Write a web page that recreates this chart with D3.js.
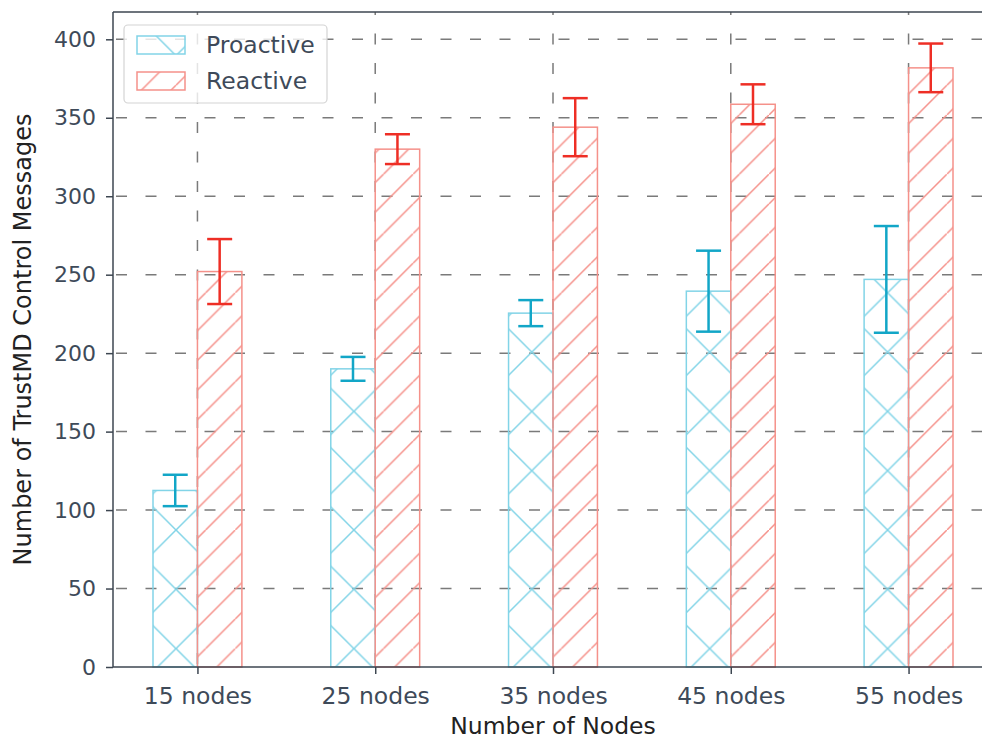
<!DOCTYPE html>
<html>
<head>
<meta charset="utf-8">
<script src="https://cdn.jsdelivr.net/npm/d3@7"></script>
<style>
  body { margin: 0; background: #fff; }
  text { font-family: "DejaVu Sans", sans-serif; }
</style>
</head>
<body>
<div id="chart"></div>
<script>
// chart data
var categories = ["15 nodes", "25 nodes", "35 nodes", "45 nodes", "55 nodes"];
var proactive = [112.5, 190, 225.5, 239.5, 247];
var proactiveErr = [10, 7.6, 8.3, 25.8, 34];
var reactive = [252, 330, 344, 358.6, 381.8];
var reactiveErr = [20.7, 9.5, 18.5, 12.7, 15.5];
var yTicks = [0, 50, 100, 150, 200, 250, 300, 350, 400];

var width = 982, height = 740;
var margin = {top: 12, left: 113, bottom: 667, right: 993};

var svg = d3.select("#chart").append("svg")
    .attr("width", width)
    .attr("height", height);

// x: bar positions as in matplotlib, i - 0.125 / i + 0.125, width 0.25
var x = d3.scaleLinear().domain([-0.475, 4.475]).range([margin.left, margin.right]);
var y = d3.scaleLinear().domain([0, 417.4]).range([margin.bottom, margin.top]);
var barW = x(0.25) - x(0);

var cyanEdge = "#82d4e7", cyanErr = "#12a6c7";
var redEdge = "#f5918a", redErr = "#ee2e25";

// hatch patterns, screen-space lattice
var T = 59.3;
var defs = svg.append("defs");
var px = defs.append("pattern").attr("id", "hatchX")
    .attr("patternUnits", "userSpaceOnUse")
    .attr("x", 176).attr("y", 530).attr("width", T).attr("height", T);
px.append("path")
    .attr("d", "M0,0L" + T + "," + T + "M0," + T + "L" + T + ",0")
    .attr("stroke", cyanEdge).attr("stroke-width", 1.5).attr("fill", "none");

var pr = defs.append("pattern").attr("id", "hatchR")
    .attr("patternUnits", "userSpaceOnUse")
    .attr("x", 176).attr("y", 530).attr("width", T).attr("height", T);
pr.append("path")
    .attr("d", "M0," + T / 2 + "L" + T / 2 + ",0M0," + T + "L" + T + ",0M" + T / 2 + "," + T + "L" + T + "," + T / 2)
    .attr("stroke", redEdge).attr("stroke-width", 1.5).attr("fill", "none");

var clip = defs.append("clipPath").attr("id", "plotclip");
clip.append("rect").attr("x", margin.left).attr("y", margin.top)
    .attr("width", margin.right - margin.left).attr("height", margin.bottom - margin.top);

// grid
var grid = svg.append("g").attr("clip-path", "url(#plotclip)");
grid.selectAll("line.hg").data(yTicks.slice(1)).enter().append("line")
    .attr("class", "hg")
    .attr("x1", margin.left).attr("x2", margin.right)
    .attr("y1", function(d) { return y(d); }).attr("y2", function(d) { return y(d); })
    .attr("stroke", "#7a7a7a").attr("stroke-width", 1.5)
    .attr("stroke-dasharray", "11,18.5").attr("stroke-dashoffset", -3);
grid.selectAll("line.vg").data(categories).enter().append("line")
    .attr("class", "vg")
    .attr("x1", function(d, i) { return x(i); }).attr("x2", function(d, i) { return x(i); })
    .attr("y1", margin.bottom).attr("y2", margin.top)
    .attr("stroke", "#7a7a7a").attr("stroke-width", 1.5)
    .attr("stroke-dasharray", "11,18.5").attr("stroke-dashoffset", -3);

// bars
var bars = svg.append("g");
bars.selectAll("rect.pro").data(proactive).enter().append("rect")
    .attr("class", "pro")
    .attr("x", function(d, i) { return x(i - 0.25); })
    .attr("width", barW)
    .attr("y", function(d) { return y(d); })
    .attr("height", function(d) { return y(0) - y(d); })
    .attr("fill", "url(#hatchX)")
    .attr("stroke", cyanEdge).attr("stroke-width", 1.5);
bars.selectAll("rect.rea").data(reactive).enter().append("rect")
    .attr("class", "rea")
    .attr("x", function(d, i) { return x(i); })
    .attr("width", barW)
    .attr("y", function(d) { return y(d); })
    .attr("height", function(d) { return y(0) - y(d); })
    .attr("fill", "url(#hatchR)")
    .attr("stroke", redEdge).attr("stroke-width", 1.5);

// error bars
function errorBars(vals, errs, offset, color) {
  var g = svg.append("g").attr("stroke", color).attr("stroke-width", 2.5);
  var cap = 12.5;
  vals.forEach(function(v, i) {
    var cx = x(i + offset);
    g.append("line").attr("x1", cx).attr("x2", cx)
      .attr("y1", y(v - errs[i])).attr("y2", y(v + errs[i]));
    g.append("line").attr("x1", cx - cap).attr("x2", cx + cap)
      .attr("y1", y(v - errs[i])).attr("y2", y(v - errs[i]));
    g.append("line").attr("x1", cx - cap).attr("x2", cx + cap)
      .attr("y1", y(v + errs[i])).attr("y2", y(v + errs[i]));
  });
}
errorBars(proactive, proactiveErr, -0.125, cyanErr);
errorBars(reactive, reactiveErr, 0.125, redErr);

// axes
var spine = "#3d4651", tickText = "#3e4a59";
var yAxis = svg.append("g")
    .attr("transform", "translate(" + margin.left + ",0)")
    .call(d3.axisLeft(y).tickValues(yTicks).tickSize(7).tickPadding(10));
var xAxis = svg.append("g")
    .attr("transform", "translate(0," + margin.bottom + ")")
    .call(d3.axisBottom(x).tickValues(d3.range(categories.length))
      .tickFormat(function(d) { return categories[d]; })
      .tickSize(7).tickPadding(13));
[yAxis, xAxis].forEach(function(a) {
  a.select(".domain").remove();
  a.selectAll(".tick line").attr("stroke", spine).attr("stroke-width", 1.5);
  a.selectAll(".tick text").attr("fill", tickText)
    .style("font-family", "DejaVu Sans");
});
yAxis.selectAll(".tick text").style("font-size", "22px");
xAxis.selectAll(".tick text").style("font-size", "23.5px");

// spines
svg.append("line").attr("x1", margin.left).attr("x2", margin.left)
  .attr("y1", margin.top).attr("y2", margin.bottom)
  .attr("stroke", spine).attr("stroke-width", 1.5);
svg.append("line").attr("x1", margin.left).attr("x2", margin.right)
  .attr("y1", margin.bottom).attr("y2", margin.bottom)
  .attr("stroke", spine).attr("stroke-width", 1.5);
svg.append("line").attr("x1", margin.left).attr("x2", margin.right)
  .attr("y1", margin.top).attr("y2", margin.top)
  .attr("stroke", spine).attr("stroke-width", 1.5);

// axis labels
svg.append("text")
  .attr("x", (margin.left + margin.right) / 2).attr("y", 734)
  .attr("text-anchor", "middle").attr("fill", "#222")
  .style("font-size", "23.5px")
  .text("Number of Nodes");
svg.append("text")
  .attr("transform", "translate(31," + (margin.top + margin.bottom) / 2 + ") rotate(-90)")
  .attr("text-anchor", "middle").attr("fill", "#222")
  .style("font-size", "24px")
  .text("Number of TrustMD Control Messages");

// legend
var legend = svg.append("g");
legend.append("rect").attr("x", 124).attr("y", 25).attr("width", 203).attr("height", 78)
  .attr("rx", 4).attr("fill", "#fff").attr("fill-opacity", 0.8)
  .attr("stroke", "#d4d4d4").attr("stroke-width", 1.2);
var legendItems = [
  {label: "Proactive", fill: "url(#hatchX)", edge: cyanEdge, y: 36},
  {label: "Reactive", fill: "url(#hatchR)", edge: redEdge, y: 72}
];
legendItems.forEach(function(d) {
  legend.append("rect").attr("x", 137).attr("y", d.y).attr("width", 48).attr("height", 18)
    .attr("fill", d.fill).attr("stroke", d.edge).attr("stroke-width", 1.5);
  legend.append("text").attr("x", 206).attr("y", d.y + 17)
    .attr("fill", tickText).style("font-size", "23.5px").text(d.label);
});
</script>
</body>
</html>
